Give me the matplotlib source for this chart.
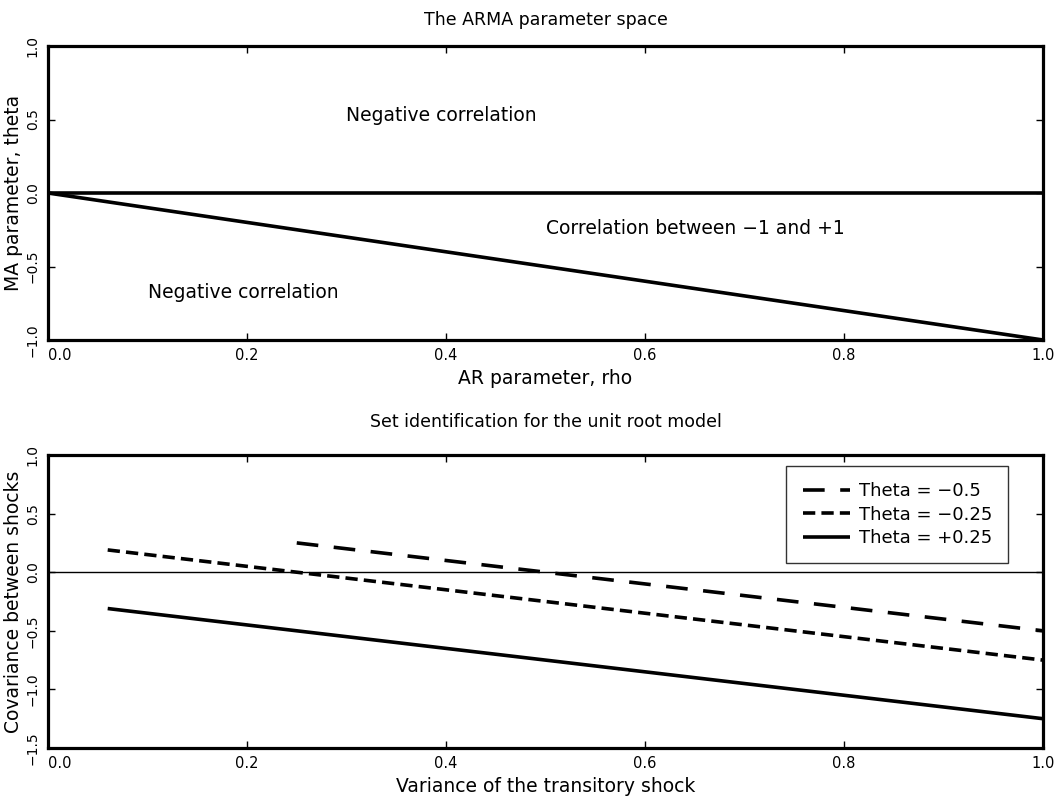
import numpy as np
import matplotlib
matplotlib.use("Agg")
import matplotlib.pyplot as plt
from matplotlib.ticker import FuncFormatter

# ust panel: sinir cizgileri
rho = [0.0, 1.0]
theta_sinir = [0.0, -1.0]
sifir = [0.0, 0.0]

# alt panel: her theta icin dogru parcalari (uc noktalar)
etiketler = ["Theta = \u22120.5", "Theta = \u22120.25", "Theta = +0.25"]
x_seri = [[0.25, 1.0], [0.06, 1.0], [0.06, 1.0]]
y_seri = [[0.25, -0.5], [0.19, -0.75], [-0.31, -1.25]]

plt.rcParams["font.family"] = "DejaVu Sans"
plt.rcParams["axes.unicode_minus"] = True

W, H = 1064, 798
fig = plt.figure(figsize=(W/100, H/100), dpi=100)
ax1 = fig.add_axes([48/W, 1-340/H, 995/W, 294/H])
ax2 = fig.add_axes([48/W, 1-748/H, 995/W, 293/H])

def bicim(v, pos):
    return f"{v:.1f}".replace("-", "\u2212")

lw = 2.6
yazi = 13.5
ax1.plot(rho, sifir, color="black", lw=lw, solid_capstyle="butt")
ax1.plot(rho, theta_sinir, color="black", lw=lw, solid_capstyle="butt")
ax1.text(0.30, 0.53, "Negative correlation", fontsize=yazi, va="center")
ax1.text(0.50, -0.24, "Correlation between \u22121 and +1", fontsize=yazi, va="center")
ax1.text(0.10, -0.675, "Negative correlation", fontsize=yazi, va="center")
ax1.set_xlim(0, 1)
ax1.set_ylim(-1, 1)
ax1.set_yticks([-1.0, -0.5, 0.0, 0.5, 1.0])
ax1.set_title("The ARMA parameter space", fontsize=12.5, pad=15)
ax1.set_xlabel("AR parameter, rho", fontsize=yazi)
ax1.set_ylabel("MA parameter, theta", fontsize=yazi)

stiller = [(0, (6, 4.3)), (0, (3.4, 1.7)), "-"]
ax2.axhline(0, color="black", lw=1.0)
for xs, ys, et, st in zip(x_seri, y_seri, etiketler, stiller):
    ax2.plot(xs, ys, color="black", lw=lw, linestyle=st, dash_capstyle="butt",
             solid_capstyle="butt", label=et)
ax2.set_xlim(0, 1)
ax2.set_ylim(-1.5, 1)
ax2.set_yticks([-1.5, -1.0, -0.5, 0.0, 0.5, 1.0])
ax2.set_title("Set identification for the unit root model", fontsize=12.5, pad=20)
ax2.set_xlabel("Variance of the transitory shock", fontsize=yazi)
ax2.set_ylabel("Covariance between shocks", fontsize=yazi)
leg = ax2.legend(loc="upper right", bbox_to_anchor=(0.965, 0.962), borderaxespad=0,
                 fontsize=13, frameon=True, fancybox=False, handlelength=2.6,
                 borderpad=0.9, labelspacing=0.3, handletextpad=0.5)
leg.get_frame().set_edgecolor("black")
leg.get_frame().set_linewidth(1.0)

for ax in (ax1, ax2):
    ax.set_xticks([0.0, 0.2, 0.4, 0.6, 0.8, 1.0])
    ax.xaxis.set_major_formatter(FuncFormatter(bicim))
    ax.yaxis.set_major_formatter(FuncFormatter(bicim))
    ax.tick_params(direction="in", length=5, width=1, labelsize=10.5,
                   top=True, right=True, pad=6)
    ax.xaxis.set_label_coords(0.5, -0.098)
    ax.yaxis.set_label_coords(-0.025, 0.5)
    for lab in ax.get_yticklabels():
        lab.set_rotation(90)
        lab.set_va("center")
        lab.set_fontsize(10)
    ax.get_xticklabels()[0].set_ha("left")
    for s in ax.spines.values():
        s.set_linewidth(2.3)

fig.savefig("out.png", dpi=100)
